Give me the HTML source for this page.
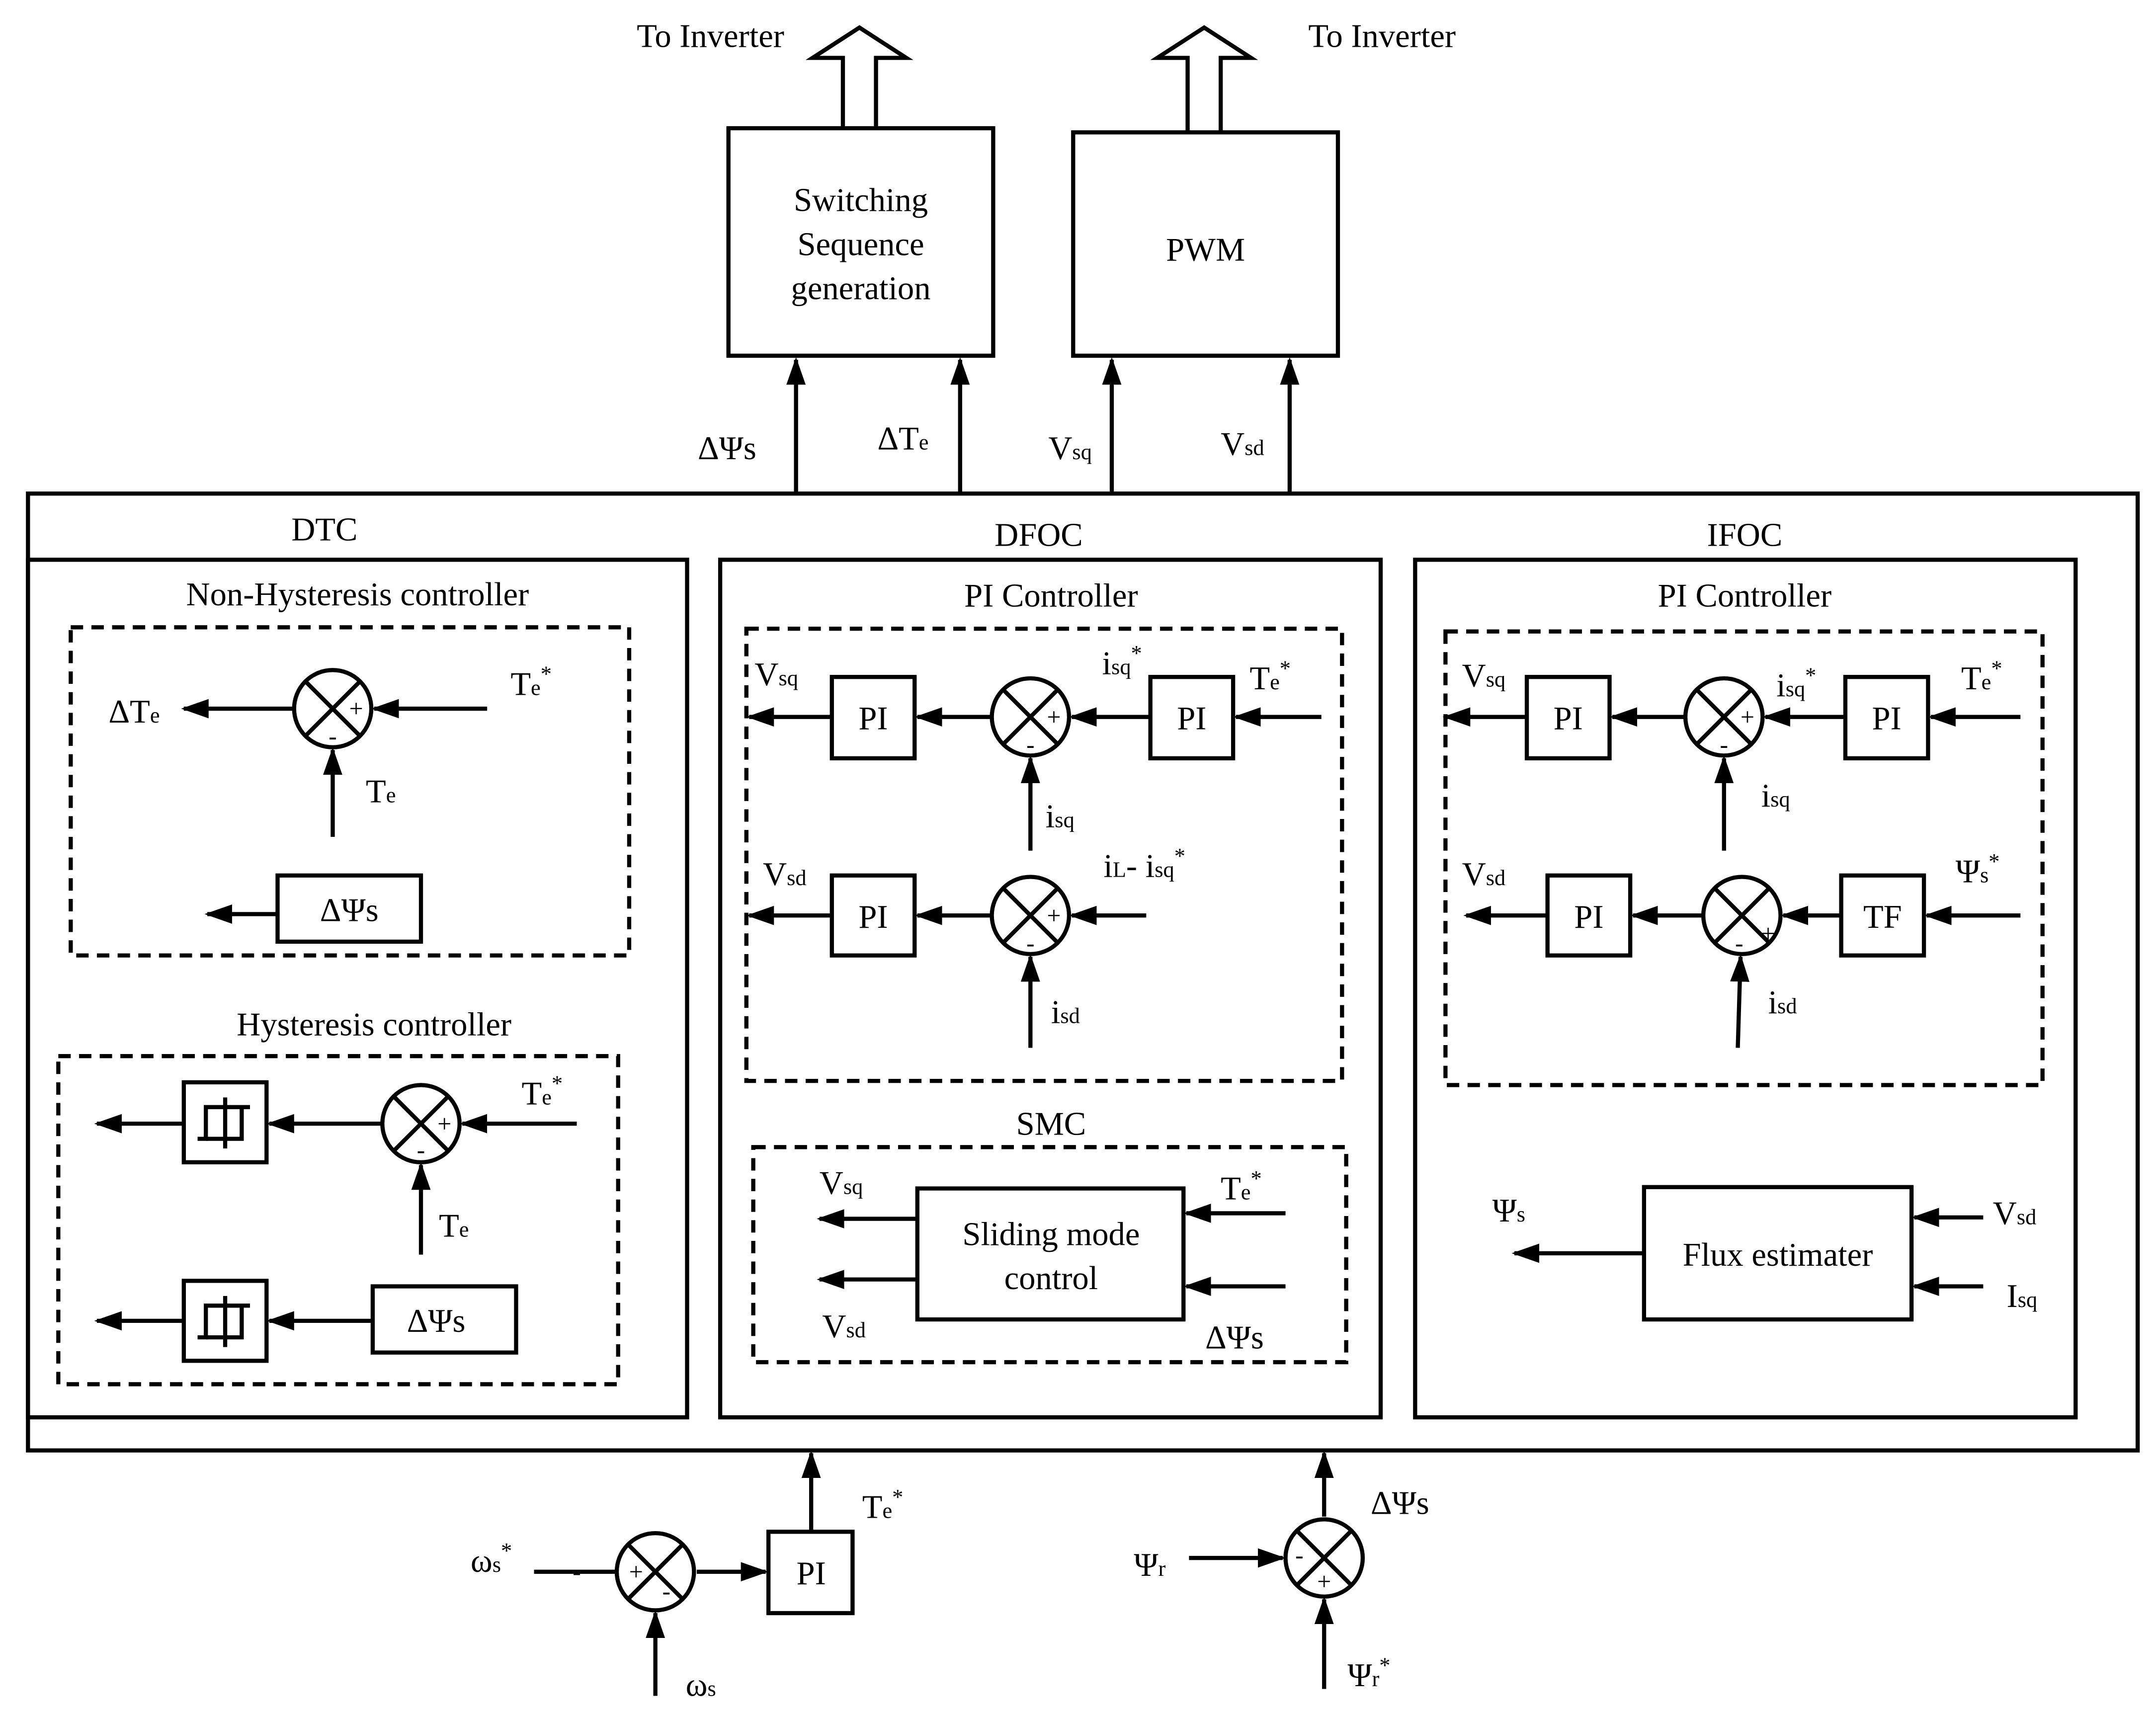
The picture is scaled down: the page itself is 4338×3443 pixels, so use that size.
<!DOCTYPE html>
<html><head><meta charset="utf-8">
<style>
html,body{margin:0;padding:0;background:#fff;}
svg{display:block;}
text{font-family:"Liberation Serif","DejaVu Serif",serif;fill:#000;}
</style></head>
<body>
<svg xmlns="http://www.w3.org/2000/svg" width="4338" height="3443" viewBox="0 0 1563 1241">
<defs>
<marker id="ah" markerWidth="20" markerHeight="14" refX="18" refY="7" orient="auto" markerUnits="userSpaceOnUse">
<path d="M0,0 L20,7 L0,14 Z" fill="#000"/>
</marker>
<g id="sum">
<circle cx="0" cy="0" r="28" fill="#fff" stroke="#000" stroke-width="3"/>
<line x1="-20" y1="-20" x2="20" y2="20" stroke="#000" stroke-width="3"/>
<line x1="-20" y1="20" x2="20" y2="-20" stroke="#000" stroke-width="3"/>
</g>
<g id="hyst">
<rect x="0" y="0" width="60" height="58" fill="#fff" stroke="#000" stroke-width="3"/>
<line x1="30" y1="11" x2="30" y2="48" stroke="#000" stroke-width="3"/>
<polyline points="16,41 42,41 42,18" fill="none" stroke="#000" stroke-width="3"/>
<polyline points="10,41 16,41 16,18 48,18" fill="none" stroke="#000" stroke-width="3"/>
</g>
</defs>
<rect width="1563" height="1241" fill="#fff"/>
<g fill="none" stroke="#000" stroke-width="3">
<!-- main boxes -->
<rect x="20" y="358" width="1530" height="694"/>
<rect x="20" y="406" width="478" height="622"/>
<rect x="522" y="406" width="479" height="622"/>
<rect x="1026" y="406" width="479" height="622"/>
<rect x="528" y="93" width="192" height="165"/>
<rect x="778" y="96" width="192" height="162"/>
<!-- hollow arrows -->
<path d="M611,93 V42 H589 L623,20 L657,42 H635 V93"/>
<path d="M861,96 V42 H839 L873,20 L907,42 H885 V96"/>
</g>
<g stroke="#000" stroke-width="3" fill="none" marker-end="url(#ah)">
<line x1="577" y1="358" x2="577" y2="261"/>
<line x1="696" y1="358" x2="696" y2="261"/>
<line x1="806" y1="358" x2="806" y2="261"/>
<line x1="935" y1="358" x2="935" y2="261"/>
</g>
<g font-size="24">
<text x="515" y="34" text-anchor="middle">To Inverter</text>
<text x="1002" y="34" text-anchor="middle">To Inverter</text>
<text x="624" y="153" text-anchor="middle">Switching</text>
<text x="624" y="185" text-anchor="middle">Sequence</text>
<text x="624" y="217" text-anchor="middle">generation</text>
<text x="874" y="189" text-anchor="middle">PWM</text>
<text x="527" y="333" text-anchor="middle">ΔΨs</text>
<text x="636" y="326">ΔT<tspan font-size="16">e</tspan></text>
<text x="760" y="333">V<tspan font-size="16">sq</tspan></text>
<text x="885" y="330">V<tspan font-size="16">sd</tspan></text>
<text x="235" y="392" text-anchor="middle">DTC</text>
<text x="753" y="396" text-anchor="middle">DFOC</text>
<text x="1265" y="396" text-anchor="middle">IFOC</text>
</g>

<!-- DTC -->
<g fill="none" stroke="#000" stroke-width="3" stroke-dasharray="9,6">
<rect x="51" y="455" width="405" height="238"/>
<rect x="42" y="766" width="406" height="238"/>
<rect x="541" y="456" width="432" height="328"/>
<rect x="546" y="832" width="430" height="156"/>
<rect x="1048" y="458" width="433" height="329"/>
</g>
<g fill="#fff" stroke="#000" stroke-width="3">
<rect x="201" y="635" width="104" height="48"/>
<rect x="270" y="933" width="104" height="48"/>
<rect x="603" y="491" width="60" height="59"/>
<rect x="834" y="491" width="60" height="59"/>
<rect x="603" y="635" width="60" height="58"/>
<rect x="665" y="862" width="193" height="95"/>
<rect x="1107" y="491" width="60" height="59"/>
<rect x="1338" y="491" width="60" height="59"/>
<rect x="1122" y="635" width="60" height="58"/>
<rect x="1335" y="635" width="60" height="58"/>
<rect x="1192" y="861" width="194" height="96"/>
<rect x="557" y="1111" width="61" height="59"/>
</g>
<use href="#hyst" x="133" y="785"/>
<use href="#hyst" x="133" y="929"/>

<g stroke="#000" stroke-width="3" fill="none" marker-end="url(#ah)">
<!-- DTC non-hyst -->
<line x1="353" y1="514" x2="271" y2="514"/>
<line x1="213" y1="514" x2="133" y2="514"/>
<line x1="241" y1="607" x2="241" y2="544"/>
<line x1="201" y1="663" x2="150" y2="663"/>
<!-- DTC hyst -->
<line x1="418" y1="815" x2="335" y2="815"/>
<line x1="277" y1="815" x2="195" y2="815"/>
<line x1="133" y1="815" x2="70" y2="815"/>
<line x1="305" y1="910" x2="305" y2="845"/>
<line x1="270" y1="958" x2="195" y2="958"/>
<line x1="133" y1="958" x2="70" y2="958"/>
<!-- DFOC -->
<line x1="958" y1="520" x2="896" y2="520"/>
<line x1="834" y1="520" x2="777" y2="520"/>
<line x1="719" y1="520" x2="665" y2="520"/>
<line x1="603" y1="520" x2="543" y2="520"/>
<line x1="747" y1="617" x2="747" y2="550"/>
<line x1="831" y1="664" x2="777" y2="664"/>
<line x1="719" y1="664" x2="665" y2="664"/>
<line x1="603" y1="664" x2="543" y2="664"/>
<line x1="747" y1="760" x2="747" y2="694"/>
<line x1="665" y1="884" x2="594" y2="884"/>
<line x1="665" y1="928" x2="594" y2="928"/>
<line x1="932" y1="880" x2="860" y2="880"/>
<line x1="932" y1="933" x2="860" y2="933"/>
<!-- IFOC -->
<line x1="1465" y1="520" x2="1400" y2="520"/>
<line x1="1338" y1="520" x2="1280" y2="520"/>
<line x1="1222" y1="520" x2="1169" y2="520"/>
<line x1="1107" y1="520" x2="1048" y2="520"/>
<line x1="1250" y1="617" x2="1250" y2="550"/>
<line x1="1465" y1="664" x2="1397" y2="664"/>
<line x1="1335" y1="664" x2="1293" y2="664"/>
<line x1="1235" y1="664" x2="1184" y2="664"/>
<line x1="1122" y1="664" x2="1063" y2="664"/>
<line x1="1260" y1="760" x2="1262" y2="694"/>
<line x1="1192" y1="909" x2="1098" y2="909"/>
<line x1="1438" y1="883" x2="1388" y2="883"/>
<line x1="1438" y1="933" x2="1388" y2="933"/>
<!-- bottom -->
<line x1="505" y1="1140" x2="555" y2="1140"/>
<line x1="588" y1="1111" x2="588" y2="1054"/>
<line x1="475" y1="1230" x2="475" y2="1170"/>
<line x1="862" y1="1130" x2="930" y2="1130"/>
<line x1="960" y1="1100" x2="960" y2="1054"/>
<line x1="960" y1="1225" x2="960" y2="1160"/>
</g>
<line x1="387" y1="1140" x2="446" y2="1140" stroke="#000" stroke-width="3"/>

<use href="#sum" x="241" y="514"/>
<use href="#sum" x="305" y="815"/>
<use href="#sum" x="747" y="520"/>
<use href="#sum" x="747" y="664"/>
<use href="#sum" x="1250" y="520"/>
<use href="#sum" x="1263" y="664"/>
<use href="#sum" x="475" y="1140"/>
<use href="#sum" x="960" y="1130"/>

<g font-size="24">
<text x="259" y="439" text-anchor="middle">Non-Hysteresis controller</text>
<text x="97" y="524" text-anchor="middle">ΔT<tspan font-size="16">e</tspan></text>
<text x="370" y="504">T<tspan font-size="16">e</tspan><tspan font-size="16" dy="-10">*</tspan></text>
<text x="265" y="582">T<tspan font-size="16">e</tspan></text>
<text x="253" y="668" text-anchor="middle">ΔΨs</text>
<text x="271" y="751" text-anchor="middle">Hysteresis controller</text>
<text x="378" y="801">T<tspan font-size="16">e</tspan><tspan font-size="16" dy="-10">*</tspan></text>
<text x="318" y="897">T<tspan font-size="16">e</tspan></text>
<text x="316" y="966" text-anchor="middle">ΔΨs</text>

<text x="762" y="440" text-anchor="middle">PI Controller</text>
<text x="547" y="497">V<tspan font-size="16">sq</tspan></text>
<text x="799" y="489">i<tspan font-size="16">sq</tspan><tspan font-size="16" dy="-10">*</tspan></text>
<text x="906" y="500">T<tspan font-size="16">e</tspan><tspan font-size="16" dy="-10">*</tspan></text>
<text x="633" y="529" text-anchor="middle">PI</text>
<text x="864" y="529" text-anchor="middle">PI</text>
<text x="758" y="600">i<tspan font-size="16">sq</tspan></text>
<text x="553" y="642">V<tspan font-size="16">sd</tspan></text>
<text x="800" y="636">i<tspan font-size="16">L</tspan>- i<tspan font-size="16">sq</tspan><tspan font-size="16" dy="-10">*</tspan></text>
<text x="633" y="673" text-anchor="middle">PI</text>
<text x="762" y="742">i<tspan font-size="16">sd</tspan></text>
<text x="762" y="823" text-anchor="middle">SMC</text>
<text x="594" y="866">V<tspan font-size="16">sq</tspan></text>
<text x="596" y="970">V<tspan font-size="16">sd</tspan></text>
<text x="885" y="870">T<tspan font-size="16">e</tspan><tspan font-size="16" dy="-10">*</tspan></text>
<text x="895" y="978" text-anchor="middle">ΔΨs</text>
<text x="762" y="903" text-anchor="middle">Sliding mode</text>
<text x="762" y="935" text-anchor="middle">control</text>

<text x="1265" y="440" text-anchor="middle">PI Controller</text>
<text x="1060" y="498">V<tspan font-size="16">sq</tspan></text>
<text x="1288" y="505">i<tspan font-size="16">sq</tspan><tspan font-size="16" dy="-10">*</tspan></text>
<text x="1422" y="500">T<tspan font-size="16">e</tspan><tspan font-size="16" dy="-10">*</tspan></text>
<text x="1137" y="529" text-anchor="middle">PI</text>
<text x="1368" y="529" text-anchor="middle">PI</text>
<text x="1277" y="585">i<tspan font-size="16">sq</tspan></text>
<text x="1060" y="642">V<tspan font-size="16">sd</tspan></text>
<text x="1418" y="640">Ψ<tspan font-size="16">s</tspan><tspan font-size="16" dy="-10">*</tspan></text>
<text x="1152" y="673" text-anchor="middle">PI</text>
<text x="1365" y="673" text-anchor="middle">TF</text>
<text x="1282" y="735">i<tspan font-size="16">sd</tspan></text>
<text x="1082" y="886">Ψ<tspan font-size="16">s</tspan></text>
<text x="1289" y="918" text-anchor="middle">Flux estimater</text>
<text x="1445" y="888">V<tspan font-size="16">sd</tspan></text>
<text x="1455" y="948">I<tspan font-size="16">sq</tspan></text>

<text x="341" y="1140">ω<tspan font-size="16">s</tspan><tspan font-size="16" dy="-10">*</tspan></text>
<text x="588" y="1149" text-anchor="middle">PI</text>
<text x="625" y="1101">T<tspan font-size="16">e</tspan><tspan font-size="16" dy="-10">*</tspan></text>
<text x="497" y="1230">ω<tspan font-size="16">s</tspan></text>
<text x="822" y="1143">Ψ<tspan font-size="16">r</tspan></text>
<text x="1015" y="1098" text-anchor="middle">ΔΨs</text>
<text x="977" y="1223">Ψ<tspan font-size="16">r</tspan><tspan font-size="16" dy="-10">*</tspan></text>
</g>
<g font-size="18" text-anchor="middle">
<text x="258" y="520">+</text><text x="241" y="540">-</text>
<text x="322" y="821">+</text><text x="305" y="840">-</text>
<text x="764" y="526">+</text><text x="747" y="546">-</text>
<text x="764" y="670">+</text><text x="747" y="690">-</text>
<text x="1267" y="526">+</text><text x="1250" y="546">-</text>
<text x="1282" y="683">+</text><text x="1261" y="690">-</text>
<text x="461" y="1146">+</text><text x="483" y="1160">-</text>
<text x="418" y="1146">-</text>
<text x="942" y="1134">-</text><text x="960" y="1153">+</text>
</g>
</svg>
</body></html>
